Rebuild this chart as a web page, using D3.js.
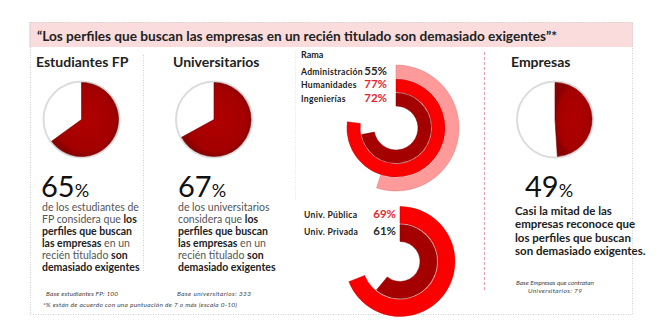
<!DOCTYPE html>
<html>
<head>
<meta charset="utf-8">
<script src="https://cdn.jsdelivr.net/npm/d3@7"></script>
<style>
  html, body { margin: 0; padding: 0; background: #fff; }
  svg { display: block; font-family: Lato, "Open Sans", sans-serif; }
</style>
</head>
<body>
<svg id="chart"></svg>
<script>
const pieLabels = ["Estudiantes FP", "Universitarios", "Empresas"];
const pieValues = [65, 67, 49];

const ramaLabels = ["Administración", "Humanidades", "Ingenierías"];
const ramaValues = [55, 77, 72];

const univLabels = ["Univ. Pública", "Univ. Privada"];
const univValues = [69, 61];

const baseNotes = ["Base estudiantes FP: 100", "Base universitarios: 333"];

const width = 660, height = 331;
const svg = d3.select("#chart").attr("width", width).attr("height", height);

const darkRed = "#a50000", red = "#fa0000", pink = "#ff9a9a";
const ramaColors = [pink, red, darkRed];
const univColors = [red, darkRed];
const pctColors = { dark: "#2a2a2a", red: "#e3262e" };

// shrink/grow font until the text spans the wanted width
function fitWidth(sel, w) {
  const len = sel.node().getComputedTextLength();
  const fs = parseFloat(sel.style("font-size"));
  sel.style("font-size", (fs * w / len) + "px");
}

// frame
svg.append("rect")
  .attr("x", 29).attr("y", 22).attr("width", 604).attr("height", 25)
  .attr("fill", "#fadcdc");

const dotted = "1 1.5";
svg.append("rect")
  .attr("x", 30.5).attr("y", 22.5).attr("width", 602).attr("height", 292)
  .attr("fill", "none").attr("stroke", "#cfcfcf").attr("stroke-dasharray", dotted);

svg.append("line")
  .attr("x1", 143.5).attr("x2", 143.5).attr("y1", 55).attr("y2", 272)
  .attr("stroke", "#cfcfcf").attr("stroke-dasharray", dotted);
svg.append("line")
  .attr("x1", 295.5).attr("x2", 295.5).attr("y1", 52).attr("y2", 200)
  .attr("stroke", "#efe6c8").attr("stroke-dasharray", dotted);
svg.append("line")
  .attr("x1", 484.5).attr("x2", 484.5).attr("y1", 52).attr("y2", 290)
  .attr("stroke", "#e3a4ae").attr("stroke-width", 1.2).attr("stroke-dasharray", "3 2");

const title = svg.append("text")
  .attr("x", 37).attr("y", 41)
  .style("font-size", "15px").style("font-weight", 700).attr("fill", "#222")
  .text("“Los perfiles que buscan las empresas en un recién titulado son demasiado exigentes”*");
fitWidth(title, 521);

// gradient for the pie slices
const defs = svg.append("defs");
const grad = defs.append("radialGradient").attr("id", "pieGrad");
grad.append("stop").attr("offset", "0%").attr("stop-color", "#b00000");
grad.append("stop").attr("offset", "85%").attr("stop-color", "#a40000");
grad.append("stop").attr("offset", "100%").attr("stop-color", "#8a0000");

// pies
const pieX = [81.5, 214, 555];
const pieHeadX = [36, 173, 511];
const pie = d3.pie().sort(null);
const pieArc = d3.arc().innerRadius(0).outerRadius(37);

pieValues.forEach((v, i) => {
  svg.append("text")
    .attr("x", pieHeadX[i]).attr("y", 67)
    .style("font-size", "14px").style("font-weight", 700).attr("fill", "#222")
    .text(pieLabels[i]);

  const g = svg.append("g").attr("transform", `translate(${pieX[i]},119.5)`);
  g.append("circle").attr("r", 38)
    .attr("fill", "#fff").attr("stroke", "#dcdcdc").attr("stroke-width", 2);
  const slice = pie([v, 100 - v])[0];
  g.append("path")
    .attr("d", pieArc(slice))
    .attr("fill", "url(#pieGrad)")
    .attr("stroke", "#7a0000").attr("stroke-width", 0.6);
});

// big percentages
const bigX = [41, 178, 525];
pieValues.forEach((v, i) => {
  const t = svg.append("text")
    .attr("x", bigX[i]).attr("y", 197)
    .attr("fill", "#111");
  t.append("tspan").style("font-size", "29px").text(v);
  t.append("tspan").style("font-size", "18px").text("%");
});

// body text
const fpLines = [
  [["de los estudiantes de", 0]],
  [["FP considera que ", 0], ["los", 1]],
  [["perfiles que buscan", 1]],
  [["las empresas", 1], [" en un", 0]],
  [["recién titulado ", 0], ["son", 1]],
  [["demasiado exigentes", 1]]
];
const uniLines = [
  [["de los universitarios", 0]],
  [["considera que ", 0], ["los", 1]],
  [["perfiles que buscan", 1]],
  [["las empresas", 1], [" en un", 0]],
  [["recién titulado ", 0], ["son", 1]],
  [["demasiado exigentes", 1]]
];

function bodyText(lines, x) {
  lines.forEach((line, j) => {
    const t = svg.append("text")
      .attr("x", x).attr("y", 211 + j * 12)
      .style("font-size", "10.5px");
    line.forEach(([s, b]) => {
      t.append("tspan")
        .style("font-weight", b ? 700 : 400)
        .attr("fill", b ? "#222" : "#555")
        .text(s);
    });
  });
}
bodyText(fpLines, 42);
bodyText(uniLines, 178);

const empLines = ["Casi la mitad de las", "empresas reconoce que", "los perfiles que buscan", "son demasiado exigentes."];
empLines.forEach((s, j) => {
  svg.append("text")
    .attr("x", 515).attr("y", 215 + j * 13.3)
    .style("font-size", "11.5px").style("font-weight", 700).attr("fill", "#222")
    .text(s);
});

// footnotes, spread to the width they take in the original
const small = (x, y, s, w, anchor) => svg.append("text")
  .attr("x", x).attr("y", y).attr("text-anchor", anchor || "start")
  .style("font-size", "6.5px").style("font-style", "italic").attr("fill", "#444")
  .attr("textLength", w).attr("lengthAdjust", "spacing")
  .text(s);
small(46, 296, baseNotes[0], 72);
small(177, 296, baseNotes[1], 74);
small(43, 307, "*% están de acuerdo con una puntuación de 7 o más (escala 0-10)", 194);
small(555, 285, "Base Empresas que contratan", 78, "middle");
small(555, 293, "Universitarios: 79", 54, "middle");

// radial bar groups
const angle = d3.scaleLinear().domain([0, 100]).range([0, 2 * Math.PI]);

function rings(cx, cy, labels, values, colors, rIn, rOut) {
  const band = d3.scaleBand().domain(labels).range([rOut, rIn]).paddingInner(0.06);
  const arc = d3.arc()
    .innerRadius(d => band(d.label))
    .outerRadius(d => band(d.label) + band.bandwidth())
    .startAngle(0)
    .endAngle(d => angle(d.value));
  const g = svg.append("g").attr("transform", `translate(${cx},${cy})`);
  g.selectAll("path")
    .data(labels.map((l, i) => ({ label: l, value: values[i], color: colors[i] })))
    .join("path")
    .attr("d", arc)
    .attr("fill", d => d.color)
    .attr("stroke", d => d3.color(d.color).darker(0.6))
    .attr("stroke-width", 0.5);
}

rings(396, 128, ramaLabels, ramaValues, ramaColors, 22, 63);
rings(400, 261.5, univLabels, univValues, univColors, 20, 55);

svg.append("text")
  .attr("x", 301).attr("y", 58)
  .style("font-size", "9px").style("font-weight", 700).attr("fill", "#222")
  .text("Rama");

const ramaY = [75, 87.5, 102];
const ramaPct = ["dark", "red", "red"];
ramaLabels.forEach((l, i) => {
  svg.append("text")
    .attr("x", 301).attr("y", ramaY[i])
    .style("font-size", "8.6px").style("font-weight", 700).attr("fill", "#222")
    .style("letter-spacing", "0.3px")
    .text(l);
  svg.append("text")
    .attr("x", 387).attr("y", ramaY[i]).attr("text-anchor", "end")
    .style("font-size", "11.5px").style("font-weight", 700).attr("fill", pctColors[ramaPct[i]])
    .text(ramaValues[i] + "%");
});

const univY = [217.5, 235];
const univPct = ["red", "dark"];
univLabels.forEach((l, i) => {
  svg.append("text")
    .attr("x", 304).attr("y", univY[i])
    .style("font-size", "8.6px").style("font-weight", 700).attr("fill", "#222")
    .style("letter-spacing", "0.3px")
    .text(l);
  svg.append("text")
    .attr("x", 396).attr("y", univY[i]).attr("text-anchor", "end")
    .style("font-size", "11.5px").style("font-weight", 700).attr("fill", pctColors[univPct[i]])
    .text(univValues[i] + "%");
});
</script>
</body>
</html>
